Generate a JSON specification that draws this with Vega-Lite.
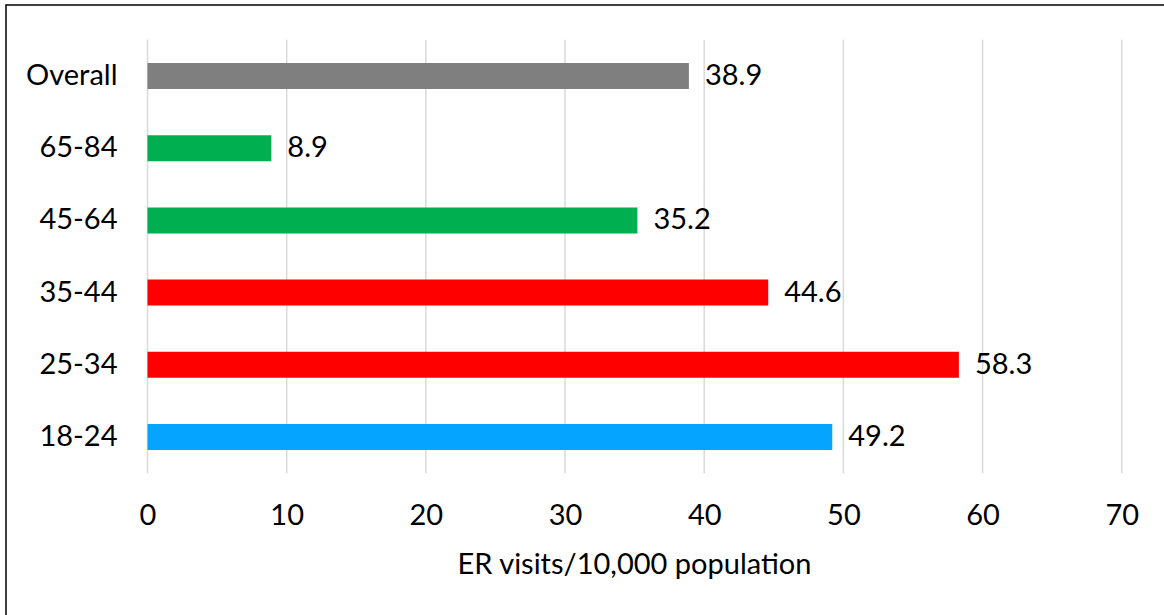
{
  "$schema": "https://vega.github.io/schema/vega-lite/v6.json",
  "autosize": {"type": "none"},
  "padding": {"left": 6, "top": 5, "right": 0, "bottom": 0},
  "width": 1160,
  "height": 612,
  "background": "#ffffff",
  "config": {
    "view": {"stroke": "#000000", "strokeWidth": 1.5},
    "font": "Lato",
    "axis": {"labelFont": "Lato", "titleFont": "Lato", "labelColor": "#000000", "titleColor": "#000000"}
  },
  "datasets": {
    "bars": [
      {"age": "Overall", "value": 38.9, "group": "Overall"},
      {"age": "65-84", "value": 8.9, "group": "Older adults"},
      {"age": "45-64", "value": 35.2, "group": "Older adults"},
      {"age": "35-44", "value": 44.6, "group": "Adults"},
      {"age": "25-34", "value": 58.3, "group": "Adults"},
      {"age": "18-24", "value": 49.2, "group": "Young adults"}
    ],
    "grid": [
      {"value": 0, "age": ["Overall", "65-84", "45-64", "35-44", "25-34", "18-24"]},
      {"value": 10, "age": ["Overall", "65-84", "45-64", "35-44", "25-34", "18-24"]},
      {"value": 20, "age": ["Overall", "65-84", "45-64", "35-44", "25-34", "18-24"]},
      {"value": 30, "age": ["Overall", "65-84", "45-64", "35-44", "25-34", "18-24"]},
      {"value": 40, "age": ["Overall", "65-84", "45-64", "35-44", "25-34", "18-24"]},
      {"value": 50, "age": ["Overall", "65-84", "45-64", "35-44", "25-34", "18-24"]},
      {"value": 60, "age": ["Overall", "65-84", "45-64", "35-44", "25-34", "18-24"]},
      {"value": 70, "age": ["Overall", "65-84", "45-64", "35-44", "25-34", "18-24"]}
    ]
  },
  "encoding": {
    "x": {
      "field": "value",
      "type": "quantitative",
      "scale": {"domain": [-10.167, 73.18], "nice": false, "zero": false},
      "axis": {
        "values": [0, 10, 20, 30, 40, 50, 60, 70],
        "domain": false,
        "ticks": false,
        "tickSize": 0,
        "grid": false,
        "labelFontSize": 29,
        "labelPadding": 0,
        "labelFlush": false,
        "offset": -116,
        "title": "ER visits/10,000 population",
        "titleFontSize": 29,
        "titleFontWeight": "normal",
        "titlePadding": 20,
        "titleX": 628
      }
    },
    "y": {
      "field": "age",
      "type": "nominal",
      "scale": {
        "type": "band",
        "domain": ["Overall", "65-84", "45-64", "35-44", "25-34", "18-24"],
        "range": [34.9, 468.1],
        "paddingInner": 0.64,
        "paddingOuter": 0.32
      },
      "axis": {
        "domain": false,
        "ticks": false,
        "tickSize": 0,
        "grid": false,
        "labelPadding": 0,
        "offset": -111,
        "title": null,
        "labelFontSize": 29
      }
    }
  },
  "layer": [
    {
      "data": {"name": "grid"},
      "transform": [{"flatten": ["age"]}],
      "mark": {"type": "tick", "color": "#d9d9d9", "thickness": 1.5, "size": 72.6, "opacity": 1}
    },
    {
      "data": {"name": "bars"},
      "mark": {"type": "bar"},
      "encoding": {
        "color": {
          "field": "group",
          "type": "nominal",
          "scale": {
            "domain": ["Overall", "Older adults", "Adults", "Young adults"],
            "range": ["#7f7f7f", "#00b050", "#ff0000", "#05a5ff"]
          },
          "legend": null
        }
      }
    },
    {
      "data": {"name": "bars"},
      "mark": {"type": "text", "align": "left", "baseline": "middle", "dx": 16, "fontSize": 29, "font": "Lato", "color": "#000000"},
      "encoding": {
        "text": {"field": "value", "type": "quantitative", "format": ".1f"}
      }
    }
  ]
}
